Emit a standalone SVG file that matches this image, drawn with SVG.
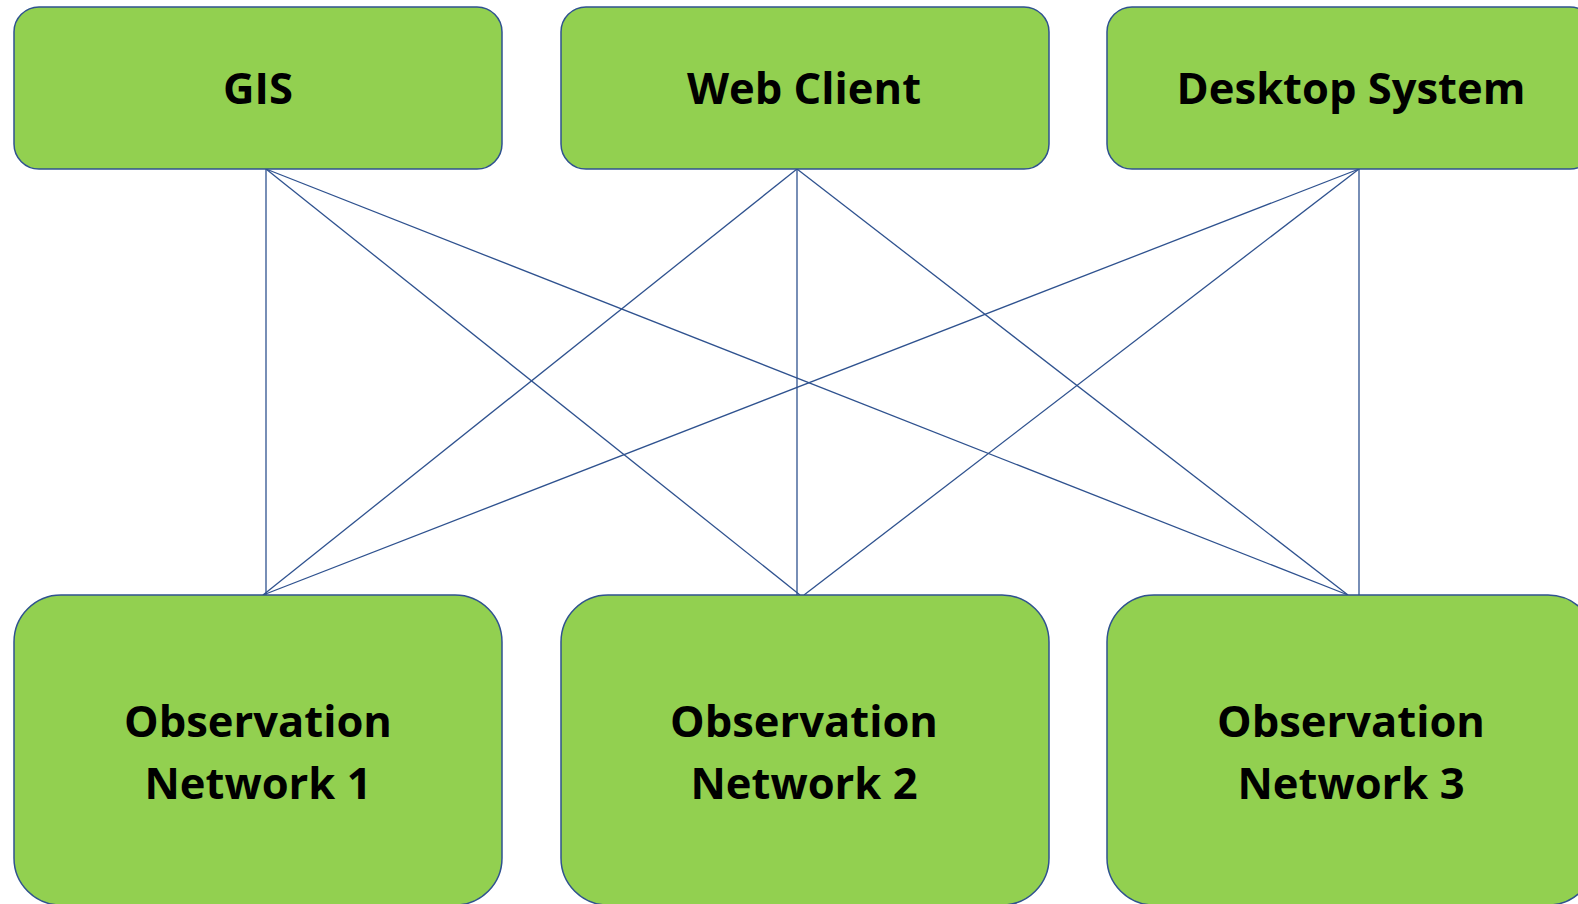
<svg xmlns="http://www.w3.org/2000/svg" width="1578" height="904" viewBox="0 0 1578 904">
<style>
.box{fill:#92D050;stroke:#2F528F;stroke-width:1.5}
.lbl{font-family:"Open Sans","Liberation Sans",sans-serif;font-weight:bold;font-size:43.5px;fill:#000;text-anchor:middle}
.conn line{stroke:#2F528F;stroke-width:1.3}
</style>
<rect width="1578" height="904" fill="#fff"/>
<g id="connectors" class="conn">
<line x1="266" y1="169" x2="266" y2="595"/>
<line x1="266" y1="169" x2="800" y2="595"/>
<line x1="266" y1="169" x2="1348" y2="595"/>
<line x1="797" y1="169" x2="263" y2="595"/>
<line x1="797" y1="169" x2="797" y2="595"/>
<line x1="797" y1="169" x2="1348" y2="595"/>
<line x1="1359" y1="169" x2="263" y2="595"/>
<line x1="1359" y1="169" x2="804" y2="595"/>
<line x1="1359" y1="169" x2="1359" y2="595"/>
</g>
<g id="gis"><rect class="box" x="14" y="7" width="488" height="162" rx="25"/><text class="lbl" x="258" y="104">GIS</text></g>
<g id="web-client"><rect class="box" x="561" y="7" width="488" height="162" rx="25"/><text class="lbl" x="804" y="104">Web Client</text></g>
<g id="desktop-system"><rect class="box" x="1107" y="7" width="488" height="162" rx="25"/><text class="lbl" x="1351" y="104">Desktop System</text></g>
<g id="obs1"><rect class="box" x="14" y="595" width="488" height="310" rx="47"/><text class="lbl" x="258" y="737">Observation</text><text class="lbl" x="258" y="799">Network 1</text></g>
<g id="obs2"><rect class="box" x="561" y="595" width="488" height="310" rx="47"/><text class="lbl" x="804" y="737">Observation</text><text class="lbl" x="804" y="799">Network 2</text></g>
<g id="obs3"><rect class="box" x="1107" y="595" width="488" height="310" rx="47"/><text class="lbl" x="1351" y="737">Observation</text><text class="lbl" x="1351" y="799">Network 3</text></g>
</svg>
